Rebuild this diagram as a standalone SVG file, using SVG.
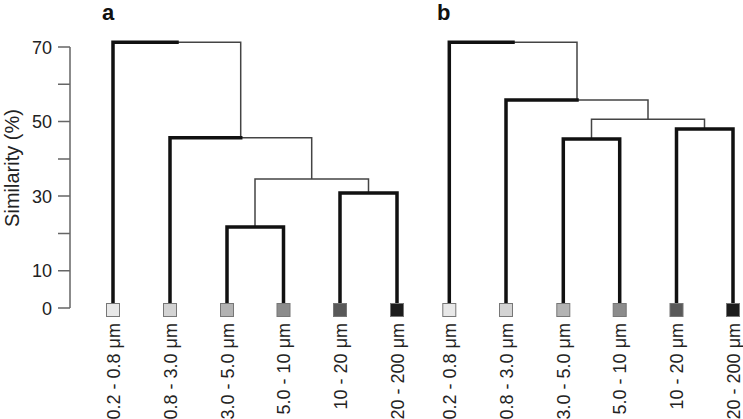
<svg xmlns="http://www.w3.org/2000/svg" width="743" height="419" viewBox="0 0 743 419">
<style>
text{font-family:"Liberation Sans",Arial,sans-serif;fill:#222}
.tk{font-size:18px;text-anchor:end}
.lb{font-size:18px;text-anchor:end}
.ttl{font-size:22px;font-weight:bold;fill:#111}
.ax{stroke:#666;stroke-width:1.5;fill:none}
.thk{stroke:#111;stroke-width:3.5;fill:none;stroke-linecap:square;stroke-linejoin:miter}
.thn{stroke:#444;stroke-width:1.5;fill:none;stroke-linecap:square}
.sq{stroke:#777;stroke-width:1}
</style>
<rect width="743" height="419" fill="#fff"/>
<g id="axis">
<path class="ax" d="M70,47V308M58,47H70M58,84.3H70M58,121.6H70M58,158.9H70M58,196.1H70M58,233.4H70M58,270.7H70M58,308H70"/>
<text class="tk" x="52" y="53.5">70</text>
<text class="tk" x="52" y="128">50</text>
<text class="tk" x="52" y="202.5">30</text>
<text class="tk" x="52" y="277">10</text>
<text class="tk" x="52" y="314.5">0</text>
<text style="font-size:20px;text-anchor:middle" transform="translate(19,168) rotate(-90)">Similarity (%)</text>
</g>
<g id="title-a"><text class="ttl" x="102" y="20">a</text></g>
<g id="title-b"><text class="ttl" x="437" y="20">b</text></g>
<g id="connectors">
<path class="thn" d="M177,42.3H240.7V137.7M240.7,137.7H311.7V179M255,179H368.5M255,179V227M368.5,179V193"/>
<path class="thk" d="M113,303V42.3H177"/>
<path class="thk" d="M170,303V137.7H240.7"/>
<path class="thk" d="M227,303V227H283.5V303"/>
<path class="thk" d="M340,303V193H397V303"/>
<path class="thn" d="M513,42.3H577V100M577,100H648V119.3M591.5,119.3H704.5M591.5,119.3V139M704.5,119.3V129"/>
<path class="thk" d="M449.3,303V42.3H513"/>
<path class="thk" d="M506,303V100H577"/>
<path class="thk" d="M563.3,303V139H619.7V303"/>
<path class="thk" d="M676.5,303V129H733V303"/>
</g>
<g id="leaves-a">
<g id="a1"><rect class="sq" x="106.5" y="303.5" width="13" height="13" fill="#e8e8e8"/><text class="lb" transform="translate(119.5,323) rotate(-90)">0.2 - 0.8 μm</text></g>
<g id="a2"><rect class="sq" x="163.5" y="303.5" width="13" height="13" fill="#d3d3d3"/><text class="lb" transform="translate(176.5,323) rotate(-90)">0.8 - 3.0 μm</text></g>
<g id="a3"><rect class="sq" x="220.5" y="303.5" width="13" height="13" fill="#b3b3b3"/><text class="lb" transform="translate(233.5,323) rotate(-90)">3.0 - 5.0 μm</text></g>
<g id="a4"><rect class="sq" x="277" y="303.5" width="13" height="13" fill="#8c8c8c"/><text class="lb" transform="translate(290,323) rotate(-90)">5.0 - 10 μm</text></g>
<g id="a5"><rect class="sq" x="333.5" y="303.5" width="13" height="13" fill="#595959"/><text class="lb" transform="translate(346.5,323) rotate(-90)">10 - 20 μm</text></g>
<g id="a6"><rect class="sq" x="390.5" y="303.5" width="13" height="13" fill="#1c1c1c"/><text class="lb" transform="translate(403.5,323) rotate(-90)">20 - 200 μm</text></g>
</g>
<g id="leaves-b">
<g id="b1"><rect class="sq" x="442.8" y="303.5" width="13" height="13" fill="#e8e8e8"/><text class="lb" transform="translate(455.8,323) rotate(-90)">0.2 - 0.8 μm</text></g>
<g id="b2"><rect class="sq" x="499.5" y="303.5" width="13" height="13" fill="#d3d3d3"/><text class="lb" transform="translate(512.5,323) rotate(-90)">0.8 - 3.0 μm</text></g>
<g id="b3"><rect class="sq" x="556.8" y="303.5" width="13" height="13" fill="#b3b3b3"/><text class="lb" transform="translate(569.8,323) rotate(-90)">3.0 - 5.0 μm</text></g>
<g id="b4"><rect class="sq" x="613.2" y="303.5" width="13" height="13" fill="#8c8c8c"/><text class="lb" transform="translate(626.2,323) rotate(-90)">5.0 - 10 μm</text></g>
<g id="b5"><rect class="sq" x="670" y="303.5" width="13" height="13" fill="#595959"/><text class="lb" transform="translate(683,323) rotate(-90)">10 - 20 μm</text></g>
<g id="b6"><rect class="sq" x="726.5" y="303.5" width="13" height="13" fill="#1c1c1c"/><text class="lb" transform="translate(739.5,323) rotate(-90)">20 - 200 μm</text></g>
</g>
</svg>
